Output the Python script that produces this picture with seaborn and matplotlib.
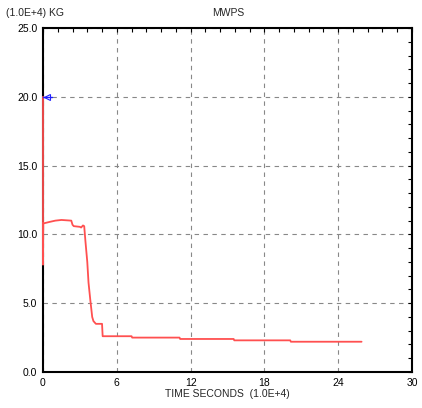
import matplotlib
matplotlib.use("Agg")
import matplotlib.pyplot as plt
import seaborn as sns
import numpy as np
from matplotlib.ticker import MultipleLocator, FormatStrFormatter

sns.set_style("white")
plt.rcParams['font.family'] = ['Liberation Sans', 'DejaVu Sans']

# data (time in 1.0E+4 s, mass in 1.0E+4 kg)
red_t = [0, 0, 0.02, 0.05, 0.5, 1.0, 1.5, 2.3, 2.4, 2.5, 3.0, 3.1, 3.25, 3.35, 3.45,
         3.6, 3.7, 3.85, 4.0, 4.1, 4.3, 4.8, 4.85, 7.2, 7.25, 11.1, 11.15, 15.5, 15.55,
         20.1, 20.15, 25.9]
red_y = [20.0, 7.8, 10.8, 10.8, 10.9, 11.0, 11.05, 11.0, 10.7, 10.6, 10.55, 10.5, 10.65,
         10.6, 9.5, 8.0, 6.5, 5.2, 4.0, 3.7, 3.5, 3.5, 2.6, 2.6, 2.5, 2.5, 2.4, 2.4, 2.3,
         2.3, 2.2, 2.2]
blue_t = [0, 0.7]
blue_y = [20.0, 20.0]
x_ticks = [0, 6, 12, 18, 24, 30]
y_ticks = [0.0, 5.0, 10.0, 15.0, 20.0, 25.0]

fig = plt.figure(figsize=(4.22, 4.08), dpi=100)
ax = fig.add_axes([43/422, 1-372/408, (412-43)/422, (372-28)/408])

sns.lineplot(x=red_t, y=red_y, sort=False, estimator=None, color='#ff5050', lw=1.3, ax=ax,
             clip_on=False, zorder=5)
sns.lineplot(x=blue_t, y=blue_y, sort=False, estimator=None, color='#2020ff', lw=1.0, ax=ax,
             clip_on=False, zorder=6)
ax.plot([0.35], [20.0], marker='<', ms=4, mfc='none', mec='#2020ff', mew=0.8, zorder=6,
        clip_on=False)

ax.set_xlim(0, 30)
ax.set_ylim(0, 25)
ax.set_xticks(x_ticks)
ax.set_yticks(y_ticks)
ax.xaxis.set_minor_locator(MultipleLocator(1.2))
ax.yaxis.set_minor_locator(MultipleLocator(1.0))
ax.yaxis.set_major_formatter(FormatStrFormatter('%.1f'))
ax.tick_params(which='both', direction='in', top=True, right=True, length=3, width=0.8,
               labelsize=7.5, colors='black')
ax.tick_params(which='major', length=3, pad=4)
ax.grid(True, which='major', linestyle=(0, (4, 4)), color='#888888', lw=0.8)
for s in ax.spines.values():
    s.set_color('black')
    s.set_linewidth(1.5)
    s.set_zorder(2)

ax.set_xlabel('TIME SECONDS  (1.0E+4)', fontsize=7.5, labelpad=1)
ax.set_ylabel('')
fig.text(6/422, 1-13/408, '(1.0E+4) KG', fontsize=7.5, va='center', ha='left')
fig.text(228/422, 1-13/408, 'MWPS', fontsize=7.5, va='center', ha='center')

fig.savefig('out.png', dpi=100)
